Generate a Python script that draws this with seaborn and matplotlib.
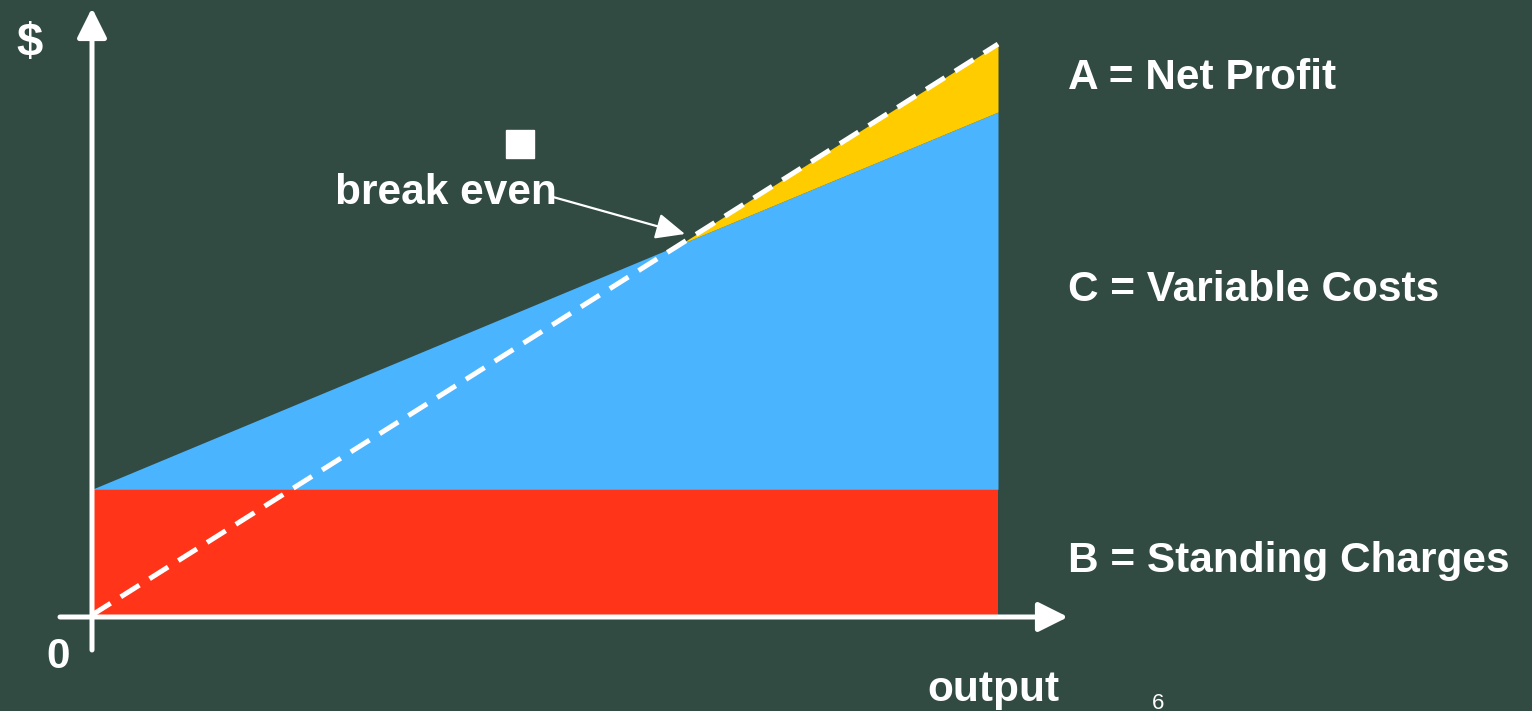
import seaborn as sns
import numpy as np
import matplotlib.pyplot as plt
import pandas as pd

sns.set_theme(style="white")
plt.rcParams['font.family'] = ['Liberation Sans', 'DejaVu Sans']

bg = '#314A42'

# break even chart values (output in %, money in arbitrary units)
output = [0, 100]
standing = [25, 25]
total_cost = [25, 100]
revenue = [0, 113.5]

df = pd.DataFrame({'output': output, 'revenue': revenue})

fig = plt.figure(figsize=(15.32, 7.11), dpi=100, facecolor=bg)
ax = fig.add_axes([0, 0, 1, 1])
ax.set_facecolor(bg)

# pixel -> data helper, only for placing decorations and labels
sx, sy = 9.06, 5.03
def px(x, y):
    return (x - 92) / sx, (615 - y) / sy

x0, y0 = px(0, 711)
x1, y1 = px(1532, 0)
ax.set_xlim(x0, x1)
ax.set_ylim(y0, y1)
ax.axis('off')

o = np.array(output, dtype=float)
s = np.array(standing, dtype=float)
c = np.array(total_cost, dtype=float)
r = np.array(revenue, dtype=float)

ax.fill_between(o, 0, s, color='#FF3419', lw=0, zorder=1)
ax.fill_between(o, s, c, color='#4AB4FF', lw=0, zorder=1)
ax.fill_between(o, c, r, where=r > c, interpolate=True, color='#FFCC00', lw=0, zorder=1)

sns.lineplot(data=df, x='output', y='revenue', ax=ax, color='white', lw=3.6,
             linestyle=(0, (4.4, 2.4)), zorder=3)
ax.lines[-1].set_dash_capstyle('butt')

# axes arrows
head = '-|>,head_length=0.9,head_width=0.45'
ax.annotate('', xy=px(1068, 617), xytext=px(60, 617),
            arrowprops=dict(arrowstyle=head, lw=3.6, color='white', mutation_scale=20,
                            shrinkA=0, shrinkB=0), zorder=4)
ax.annotate('', xy=px(92, 8), xytext=px(92, 650),
            arrowprops=dict(arrowstyle=head, lw=3.6, color='white', mutation_scale=20,
                            shrinkA=0, shrinkB=0), zorder=4)

# break even pointer
ax.annotate('', xy=px(685, 234), xytext=px(553, 197),
            arrowprops=dict(arrowstyle='-|>,head_length=0.9,head_width=0.4', lw=1.6,
                            color='white', mutation_scale=20, shrinkA=0, shrinkB=0), zorder=4)
ax.plot(*px(520, 144), marker='s', ms=20, color='white', mec='white', zorder=4)

fs = 30.5
tkw = dict(color='white', fontweight='bold', fontsize=fs, va='center')
ax.text(*px(1068, 78), 'A = Net Profit', ha='left', **tkw)
ax.text(*px(1068, 290), 'C = Variable Costs', ha='left', **tkw)
ax.text(*px(1068, 561), 'B = Standing Charges', ha='left', **tkw)
ax.text(*px(446, 193), 'break even', ha='center', **tkw)
ax.text(*px(993, 690), 'output', ha='center', **tkw)
ax.text(*px(58, 657), '0', ha='center', **tkw)
ax.text(*px(30, 44), '$', ha='center', color='white', fontweight='bold',
        fontsize=34, va='center')
ax.text(*px(1158, 693), '6', ha='center', va='top', color='white', fontsize=16)

fig.savefig('out.png', dpi=100, facecolor=bg)
